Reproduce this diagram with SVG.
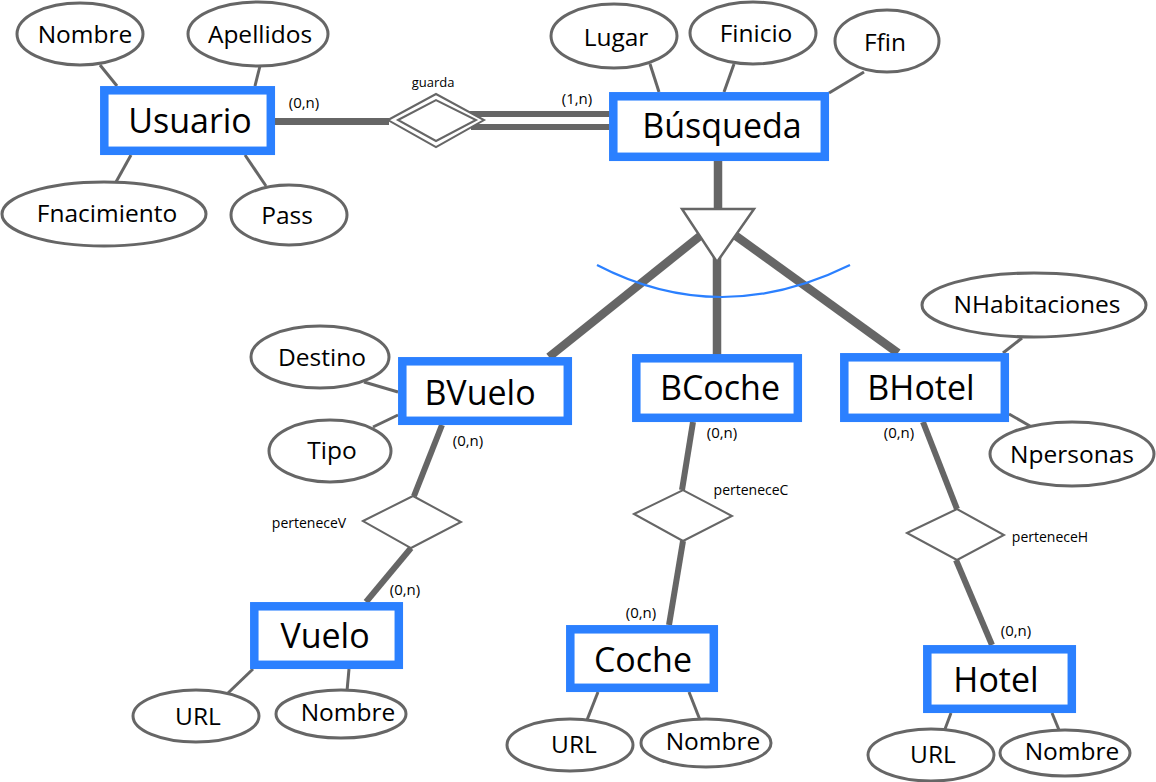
<svg xmlns="http://www.w3.org/2000/svg" width="1156" height="782" viewBox="0 0 1156 782">
<style>
.ent{fill:#fff;stroke:#2b80ff;stroke-width:8.5}
.att{fill:#fff;stroke:#666;stroke-width:3}
.rel{fill:#fff;stroke:#666;stroke-width:2}
.al{stroke:#666;stroke-width:3;fill:none}
.th{stroke:#666;stroke-width:6;fill:none}
.tk{stroke:#666;stroke-width:8.5;fill:none}
text{font-family:"Open Sans","Noto Sans","DejaVu Sans",sans-serif;fill:#000;text-anchor:middle}
.big{font-size:34px}
.mid{font-size:24.5px}
.sm{font-size:15px}
.xs{font-size:14px}
.gx{font-size:13px}
</style>
<rect width="1156" height="782" fill="#fff"/>
<g id="connectors">
<line class="al" x1="100" y1="65" x2="117" y2="86"/>
<line class="al" x1="260" y1="66" x2="255" y2="86"/>
<line class="al" x1="131" y1="155" x2="116" y2="182"/>
<line class="al" x1="245" y1="155" x2="266" y2="186"/>
<line class="al" x1="650" y1="64" x2="659" y2="92"/>
<line class="al" x1="734" y1="64" x2="724" y2="92"/>
<line class="al" x1="864" y1="72" x2="829" y2="93"/>
<line class="al" x1="364" y1="382" x2="398" y2="392"/>
<line class="al" x1="373" y1="427" x2="398" y2="415"/>
<line class="al" x1="1022" y1="338" x2="1003" y2="353"/>
<line class="al" x1="1030" y1="426" x2="1009" y2="414"/>
<line class="al" x1="228" y1="693" x2="253" y2="669"/>
<line class="al" x1="347" y1="691" x2="349" y2="669"/>
<line class="al" x1="587" y1="720" x2="598" y2="692"/>
<line class="al" x1="700" y1="720" x2="689" y2="692"/>
<line class="al" x1="945" y1="729" x2="951" y2="713"/>
<line class="al" x1="1059" y1="730" x2="1052" y2="713"/>
<line class="th" x1="275" y1="121.5" x2="389" y2="121.5" style="stroke-width:7"/>
<line class="th" x1="466" y1="114" x2="612" y2="114"/>
<line class="th" x1="471" y1="127" x2="612" y2="127"/>
<line class="th" x1="442" y1="425" x2="414" y2="496"/>
<line class="th" x1="411" y1="548" x2="366" y2="602"/>
<line class="th" x1="693" y1="422" x2="682" y2="490"/>
<line class="th" x1="683" y1="541" x2="669" y2="625"/>
<line class="th" x1="923" y1="422" x2="957" y2="509"/>
<line class="th" x1="956" y1="560" x2="992" y2="645"/>
<line class="tk" x1="718" y1="161" x2="718" y2="210"/>
<line class="tk" x1="700" y1="236" x2="549" y2="357"/>
<line class="tk" x1="736" y1="236" x2="898" y2="353"/>
<line class="tk" x1="717" y1="250" x2="717" y2="355"/>
</g>
<g id="isa">
<polygon points="682,209 754,209 717,262" fill="#fff" stroke="#666" stroke-width="2.5"/>
<path d="M597,265 Q720,329 850,265" fill="none" stroke="#2b80ff" stroke-width="2.2"/>
</g>
<g id="labels">
<text class="sm" x="304" y="108">(0,n)</text>
<text class="sm" x="577" y="104">(1,n)</text>
<text class="sm" x="468" y="446">(0,n)</text>
<text class="sm" x="405" y="595">(0,n)</text>
<text class="sm" x="722" y="438">(0,n)</text>
<text class="sm" x="641" y="618">(0,n)</text>
<text class="sm" x="899" y="438">(0,n)</text>
<text class="sm" x="1016" y="636">(0,n)</text>
</g>
<g id="guarda">
<polygon class="rel" points="388,120 436,94 484,120 436,147"/>
<polygon class="rel" points="398,120 436,100 476,120 436,141"/>
<text class="gx" x="433" y="87">guarda</text>
</g>
<g id="perteneceV">
<polygon class="rel" points="363,521 413,496 461,522 411,548"/>
<text class="xs" x="309" y="528">perteneceV</text>
</g>
<g id="perteneceC">
<polygon class="rel" points="634,514 683,490 732,516 683,541"/>
<text class="xs" x="751" y="495">perteneceC</text>
</g>
<g id="perteneceH">
<polygon class="rel" points="907,533 957,509 1004,535 957,560"/>
<text class="xs" x="1050" y="542">perteneceH</text>
</g>
<g id="Usuario">
<rect class="ent" x="104.3" y="90.3" width="166.5" height="60.5"/>
<text class="big" x="190" y="133">Usuario</text>
</g>
<g id="Busqueda">
<rect class="ent" x="613.3" y="96.3" width="211.5" height="60.5"/>
<text class="big" x="722" y="138">Búsqueda</text>
</g>
<g id="BVuelo">
<rect class="ent" x="402.3" y="361.3" width="165.5" height="59.5"/>
<text class="big" x="480" y="405">BVuelo</text>
</g>
<g id="BCoche">
<rect class="ent" x="636.3" y="358.3" width="161.5" height="59.5"/>
<text class="big" x="720" y="400">BCoche</text>
</g>
<g id="BHotel">
<rect class="ent" x="844.3" y="357.3" width="160.5" height="60.5"/>
<text class="big" x="921" y="400">BHotel</text>
</g>
<g id="Vuelo">
<rect class="ent" x="254.3" y="606.3" width="144.5" height="58.5"/>
<text class="big" x="325" y="648">Vuelo</text>
</g>
<g id="Coche">
<rect class="ent" x="570.3" y="629.3" width="143.5" height="58.5"/>
<text class="big" x="643" y="672">Coche</text>
</g>
<g id="Hotel">
<rect class="ent" x="927.3" y="649.3" width="144.5" height="59.5"/>
<text class="big" x="996" y="692">Hotel</text>
</g>
<g id="attr-Nombre-U"><ellipse class="att" cx="80" cy="34" rx="63" ry="31"/><text class="mid" x="85" y="43">Nombre</text></g>
<g id="attr-Apellidos"><ellipse class="att" cx="258" cy="34" rx="70" ry="32"/><text class="mid" x="260" y="43">Apellidos</text></g>
<g id="attr-Fnacimiento"><ellipse class="att" cx="104" cy="214" rx="102" ry="32"/><text class="mid" x="107" y="222">Fnacimiento</text></g>
<g id="attr-Pass"><ellipse class="att" cx="289" cy="215" rx="58" ry="30"/><text class="mid" x="287" y="224">Pass</text></g>
<g id="attr-Lugar"><ellipse class="att" cx="614" cy="36" rx="63" ry="32"/><text class="mid" x="616" y="46">Lugar</text></g>
<g id="attr-Finicio"><ellipse class="att" cx="753" cy="33" rx="63" ry="31"/><text class="mid" x="756" y="42">Finicio</text></g>
<g id="attr-Ffin"><ellipse class="att" cx="887" cy="41" rx="52" ry="31"/><text class="mid" x="885" y="51">Ffin</text></g>
<g id="attr-Destino"><ellipse class="att" cx="320" cy="357" rx="69" ry="31"/><text class="mid" x="322" y="366">Destino</text></g>
<g id="attr-Tipo"><ellipse class="att" cx="330" cy="451" rx="61" ry="31"/><text class="mid" x="332" y="459">Tipo</text></g>
<g id="attr-NHabitaciones"><ellipse class="att" cx="1034" cy="305" rx="112" ry="32"/><text class="mid" x="1037" y="313">NHabitaciones</text></g>
<g id="attr-Npersonas"><ellipse class="att" cx="1072" cy="454" rx="82" ry="32"/><text class="mid" x="1072" y="463">Npersonas</text></g>
<g id="attr-URL-V"><ellipse class="att" cx="196" cy="716" rx="63" ry="26"/><text class="mid" x="198" y="725">URL</text></g>
<g id="attr-Nombre-V"><ellipse class="att" cx="341" cy="714" rx="65" ry="24"/><text class="mid" x="348" y="721">Nombre</text></g>
<g id="attr-URL-C"><ellipse class="att" cx="570" cy="745" rx="63" ry="26"/><text class="mid" x="574" y="753">URL</text></g>
<g id="attr-Nombre-C"><ellipse class="att" cx="706" cy="743" rx="65" ry="24"/><text class="mid" x="713" y="750">Nombre</text></g>
<g id="attr-URL-H"><ellipse class="att" cx="931" cy="755" rx="63" ry="26"/><text class="mid" x="933" y="763">URL</text></g>
<g id="attr-Nombre-H"><ellipse class="att" cx="1065" cy="753" rx="65" ry="23"/><text class="mid" x="1072" y="760">Nombre</text></g>
</svg>
